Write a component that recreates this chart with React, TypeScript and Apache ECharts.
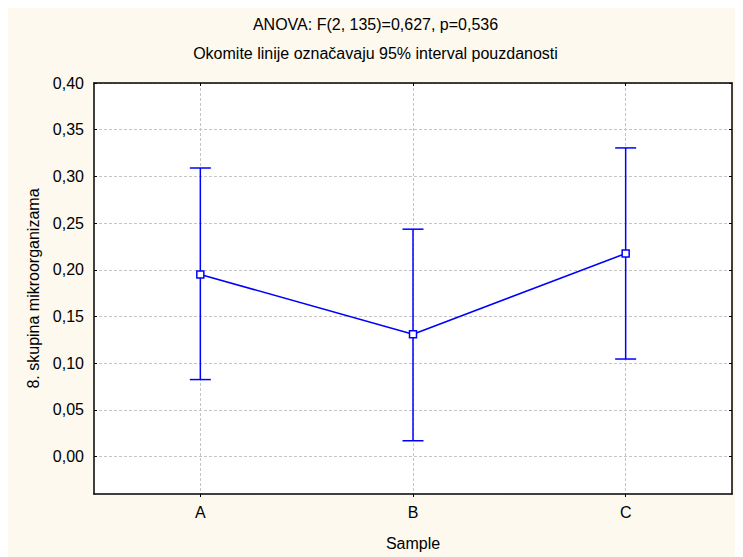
import React, { useEffect, useRef } from 'react';
import * as echarts from 'echarts';

const categories = ['A', 'B', 'C'];
const means = [0.195, 0.131, 0.2175];
const lower = [0.0825, 0.017, 0.1045];
const upper = [0.309, 0.2435, 0.3305];
const yTicks = [0, 0.05, 0.1, 0.15, 0.2, 0.25, 0.3, 0.35, 0.4];
const xTicks = [0, 1, 2];

const titleText = 'ANOVA: F(2, 135)=0,627, p=0,536';
const subtitleText = 'Okomite linije označavaju 95% interval pouzdanosti';
const yName = '8. skupina mikroorganizama';
const xName = 'Sample';

const FONT = '"Liberation Sans", Arial, sans-serif';
const FS = 16;
const BLUE = '#0000ff';

export default function App() {
  const ref = useRef<HTMLDivElement>(null);
  useEffect(() => {
    if (!ref.current) return;
    const chart = echarts.init(ref.current, null, { renderer: 'svg' });
    const gridLine = { show: true, lineStyle: { color: '#c4c4c4', type: [3, 2], width: 1 } };
    const txt = { fontFamily: FONT, fontSize: FS, color: '#000' };
    const option: any = {
      animation: false,
      backgroundColor: '#fdf9ee',
      textStyle: { fontFamily: FONT },
      title: [
        { text: titleText, left: 'center', top: 3, textStyle: { ...txt, fontWeight: 'normal' } },
        { text: subtitleText, left: 'center', top: 32, textStyle: { ...txt, fontWeight: 'normal' } },
      ],
      grid: { left: 86, top: 75, right: 11, bottom: 63, backgroundColor: '#ffffff', show: true, borderWidth: 0 },
      xAxis: [
        {
          type: 'value', min: -0.5, max: 2.5,
          name: xName, nameLocation: 'middle', nameGap: 41,
          nameTextStyle: txt,
          axisLine: { show: true, onZero: false, lineStyle: { color: '#000', width: 1.5 } },
          axisTick: { show: true, inside: false, length: 3, customValues: xTicks, lineStyle: { color: '#000' } },
          axisLabel: { customValues: xTicks, formatter: (v: number) => categories[Math.round(v)] ?? '', ...txt, margin: 10 },
          splitLine: gridLine,
        },
        {
          type: 'value', min: -0.5, max: 2.5, position: 'top',
          axisLine: { show: true, onZero: false, lineStyle: { color: '#000', width: 1.5 } },
          axisTick: { show: true, inside: true, length: 3, customValues: xTicks, lineStyle: { color: '#000' } },
          axisLabel: { show: false },
          splitLine: { show: false },
        },
      ],
      yAxis: [
        {
          type: 'value', min: -0.04, max: 0.4,
          name: yName, nameLocation: 'middle', nameGap: 52,
          nameTextStyle: txt,
          axisLine: { show: true, onZero: false, lineStyle: { color: '#000', width: 1.5 } },
          axisTick: { show: true, inside: true, length: 3, customValues: yTicks, lineStyle: { color: '#000' } },
          axisLabel: { customValues: yTicks, formatter: (v: number) => v.toFixed(2).replace('.', ','), ...txt, margin: 10 },
          splitLine: gridLine,
        },
        {
          type: 'value', min: -0.04, max: 0.4, position: 'right',
          axisLine: { show: true, onZero: false, lineStyle: { color: '#000', width: 1.5 } },
          axisTick: { show: true, inside: true, length: 3, customValues: yTicks, lineStyle: { color: '#000' } },
          axisLabel: { show: false },
          splitLine: { show: false },
        },
      ],
      series: [
        {
          type: 'custom',
          xAxisIndex: 0, yAxisIndex: 0,
          data: categories.map((_, i) => [i, lower[i], upper[i]]),
          z: 2,
          renderItem: (params: any, api: any) => {
            const x = api.value(0);
            const pLo = api.coord([x, api.value(1)]);
            const pHi = api.coord([x, api.value(2)]);
            const hw = 10.5;
            const style = { stroke: BLUE, lineWidth: 1.5 };
            return {
              type: 'group',
              children: [
                { type: 'line', shape: { x1: pLo[0], y1: pLo[1], x2: pHi[0], y2: pHi[1] }, style },
                { type: 'line', shape: { x1: pLo[0] - hw, y1: pLo[1], x2: pLo[0] + hw, y2: pLo[1] }, style },
                { type: 'line', shape: { x1: pHi[0] - hw, y1: pHi[1], x2: pHi[0] + hw, y2: pHi[1] }, style },
              ],
            };
          },
        },
        {
          type: 'line',
          xAxisIndex: 0, yAxisIndex: 0,
          data: categories.map((_, i) => [i, means[i]]),
          z: 3,
          symbol: 'rect',
          symbolSize: 7,
          lineStyle: { color: BLUE, width: 1.5 },
          itemStyle: { color: '#ffffff', borderColor: BLUE, borderWidth: 1.5 },
        },
      ],
    };
    chart.setOption(option);
    return () => chart.dispose();
  }, []);
  return <div ref={ref} style={{ width: 735, height: 549 }} />;
}
